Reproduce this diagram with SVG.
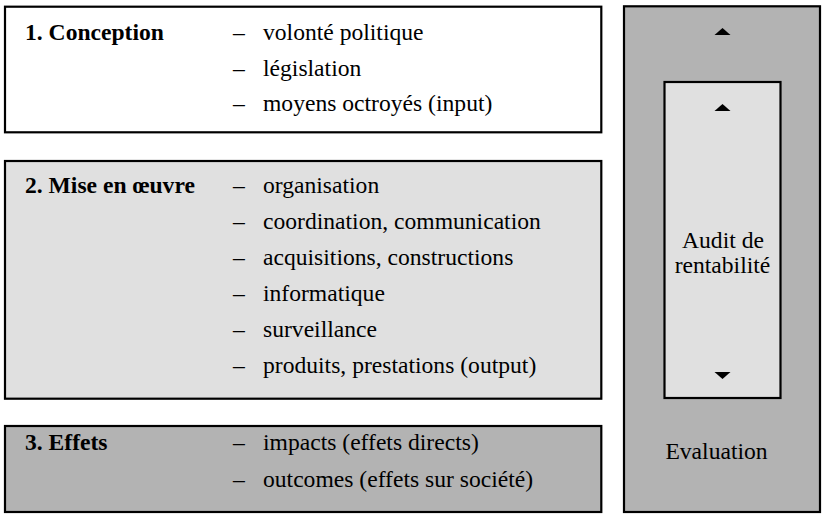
<svg xmlns="http://www.w3.org/2000/svg" width="823" height="514" viewBox="0 0 823 514">
<style>
.box{stroke:#000;stroke-width:2.2}
text{font-family:'Liberation Serif','Times New Roman',serif;font-size:23.6px;fill:#000}
.b{font-weight:bold}
.m{text-anchor:middle}
.tri{fill:#000}
</style>
<rect width="823" height="514" fill="#fff"/>
<g id="conception">
<rect class="box" x="5" y="6.7" width="596.3" height="125.6" fill="#fff"/>
<text class="b" x="25" y="40">1. Conception</text>
<text x="233" y="40">–</text><text x="263" y="40">volonté politique</text>
<text x="233" y="76">–</text><text x="263" y="76">législation</text>
<text x="233" y="111">–</text><text x="263" y="111">moyens octroyés (input)</text>
</g>
<g id="mise-en-oeuvre">
<rect class="box" x="5" y="161" width="596.3" height="237.7" fill="#e0e0e0"/>
<text class="b" x="25" y="193">2. Mise en œuvre</text>
<text x="233" y="193">–</text><text x="263" y="193">organisation</text>
<text x="233" y="229">–</text><text x="263" y="229">coordination, communication</text>
<text x="233" y="265">–</text><text x="263" y="265">acquisitions, constructions</text>
<text x="233" y="301">–</text><text x="263" y="301">informatique</text>
<text x="233" y="337">–</text><text x="263" y="337">surveillance</text>
<text x="233" y="373">–</text><text x="263" y="373">produits, prestations (output)</text>
</g>
<g id="effets">
<rect class="box" x="5" y="426" width="596.3" height="86" fill="#b3b3b3"/>
<text class="b" x="25" y="450">3. Effets</text>
<text x="233" y="450">–</text><text x="263" y="450">impacts (effets directs)</text>
<text x="233" y="487">–</text><text x="263" y="487">outcomes (effets sur société)</text>
</g>
<g id="evaluation">
<rect class="box" x="624" y="6.3" width="196" height="505.7" fill="#b3b3b3"/>
<polygon class="tri" points="714.5,35 730.5,35 722.5,28"/>
<text class="m" x="716.5" y="459">Evaluation</text>
</g>
<g id="audit">
<rect class="box" x="664.5" y="82" width="116" height="316" fill="#e0e0e0"/>
<polygon class="tri" points="714.5,111 730.5,111 722.5,104"/>
<polygon class="tri" points="714.5,372 730.5,372 722.5,379"/>
<text class="m" x="723" y="248">Audit de</text>
<text class="m" x="722.5" y="273">rentabilité</text>
</g>
<g id="connectors"></g>
</svg>
